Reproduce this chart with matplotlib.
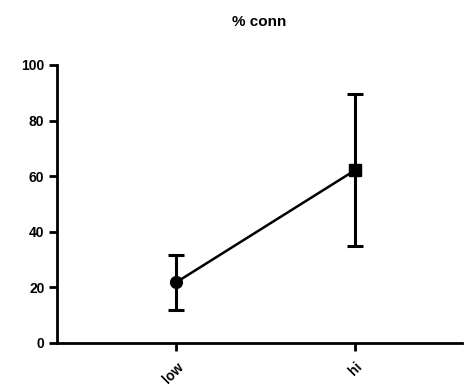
import matplotlib.pyplot as plt
import numpy as np

groups = ["low", "hi"]
mean_conn = [21.8, 62.2]
sd_conn = [9.9, 27.3]
y_ticks = [0, 20, 40, 60, 80, 100]

plt.rcParams['font.family'] = ['Liberation Sans', 'DejaVu Sans']

fig = plt.figure(figsize=(4.69, 3.91), dpi=100)
ax = fig.add_axes([0.1215, 0.1228, 0.8635, 0.7112])

x = np.arange(len(groups))
ax.plot(x, mean_conn, color='black', lw=1.8, zorder=2)
ax.errorbar(x, mean_conn, yerr=sd_conn, fmt='none', ecolor='black',
            elinewidth=2.2, capsize=6, capthick=2.2, zorder=3)
ax.plot(x[0], mean_conn[0], 'o', color='black', ms=8.5, zorder=4)
ax.plot(x[1], mean_conn[1], 's', color='black', ms=8, zorder=4)

ax.set_xlim(-0.665, 1.595)
ax.set_ylim(0, 100)
ax.set_yticks(y_ticks)
ax.set_yticklabels([str(t) for t in y_ticks], fontweight='bold', fontsize=10)
ax.set_xticks(x)
ax.set_xticklabels(groups, fontweight='bold', fontsize=10, rotation=45,
                   ha='right', va='top', rotation_mode='anchor')

for s in ['top', 'right']:
    ax.spines[s].set_visible(False)
for s in ['left', 'bottom']:
    ax.spines[s].set_linewidth(2)
ax.tick_params(direction='out', length=6, width=2, pad=3)
ax.tick_params(axis='x', pad=6)

ax.set_title("% conn", fontweight='bold', fontsize=11, pad=28)

fig.savefig("out.png", dpi=100)
